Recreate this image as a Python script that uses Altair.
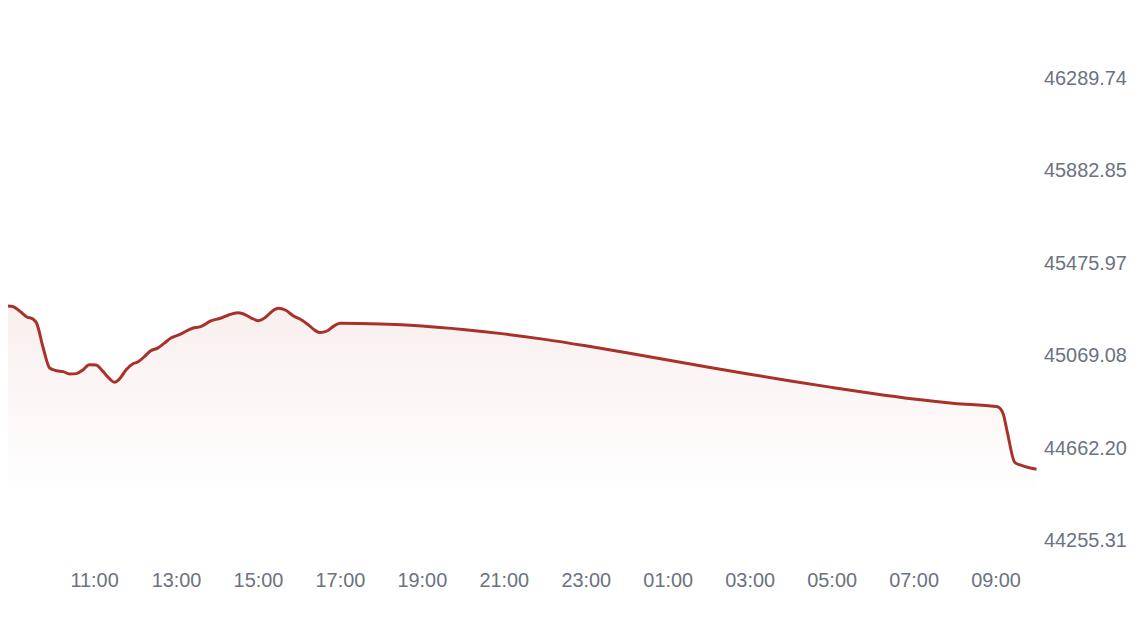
import altair as alt
import pandas as pd

times = [
    "2024-03-04T08:54", "2024-03-04T09:02", "2024-03-04T09:12", "2024-03-04T09:21",
    "2024-03-04T09:31", "2024-03-04T09:36", "2024-03-04T09:45", "2024-03-04T09:55",
    "2024-03-04T10:05", "2024-03-04T10:15", "2024-03-04T10:24", "2024-03-04T10:34",
    "2024-03-04T10:44", "2024-03-04T10:53", "2024-03-04T11:03", "2024-03-04T11:13",
    "2024-03-04T11:23", "2024-03-04T11:30", "2024-03-04T11:37", "2024-03-04T11:47",
    "2024-03-04T11:57", "2024-03-04T12:04", "2024-03-04T12:14", "2024-03-04T12:23",
    "2024-03-04T12:33", "2024-03-04T12:43", "2024-03-04T12:52", "2024-03-04T13:05",
    "2024-03-04T13:24", "2024-03-04T13:36", "2024-03-04T13:51", "2024-03-04T14:05",
    "2024-03-04T14:17", "2024-03-04T14:30", "2024-03-04T14:39", "2024-03-04T14:51",
    "2024-03-04T15:01", "2024-03-04T15:11", "2024-03-04T15:20", "2024-03-04T15:30",
    "2024-03-04T15:40", "2024-03-04T15:52", "2024-03-04T16:04", "2024-03-04T16:14",
    "2024-03-04T16:24", "2024-03-04T16:31", "2024-03-04T16:41", "2024-03-04T16:50",
    "2024-03-04T17:00", "2024-03-04T18:00", "2024-03-04T19:00", "2024-03-04T20:00",
    "2024-03-04T21:00", "2024-03-04T22:00", "2024-03-04T23:00", "2024-03-05T00:00",
    "2024-03-05T01:00", "2024-03-05T02:00", "2024-03-05T03:00", "2024-03-05T04:00",
    "2024-03-05T05:00", "2024-03-05T06:00", "2024-03-05T07:00", "2024-03-05T08:00",
    "2024-03-05T09:00", "2024-03-05T09:03", "2024-03-05T09:11", "2024-03-05T09:17",
    "2024-03-05T09:28", "2024-03-05T09:37", "2024-03-05T10:00",
]

prices = [
    45287.8, 45284.7, 45262.9, 45241.0,
    45229.6, 45212.1, 45109.7, 45015.3,
    45003.4, 44999.1, 44989.0, 44990.5,
    45007.8, 45029.7, 45028.0, 45000.4,
    44967.1, 44952.2, 44966.0, 45007.8,
    45034.1, 45041.5, 45066.0, 45090.9,
    45102.7, 45124.6, 45145.6, 45162.2,
    45190.2, 45197.2, 45222.2, 45234.0,
    45248.4, 45258.5, 45252.8, 45234.0,
    45223.5, 45238.4, 45262.9, 45277.7,
    45270.3, 45244.1, 45226.6, 45204.7,
    45179.7, 45171.0, 45178.0, 45197.2,
    45212.1, 45209.1, 45200.3, 45185.0,
    45165.3, 45141.2, 45112.8, 45082.2,
    45050.2, 45018.7, 44988.1, 44958.4,
    44929.9, 44902.8, 44878.7, 44859.1,
    44845.9, 44844.6, 44815.3, 44736.6,
    44600.9, 44587.8, 44570.3,
]

y_ticks = [44255.31, 44662.20, 45069.08, 45475.97, 45882.85, 46289.74]
y_domain = [44176.6, 46591.6]
x_tick_hours = [(4, 11), (4, 13), (4, 15), (4, 17), (4, 19), (4, 21), (4, 23),
                (5, 1), (5, 3), (5, 5), (5, 7), (5, 9)]

df = pd.DataFrame({"time": times, "price": prices})

line_color = "#a8322a"
label_color = "#6b7280"

x_enc = alt.X(
    "time:T",
    scale=alt.Scale(nice=False),
    axis=alt.Axis(
        values=[alt.DateTime(year=2024, month=3, date=d, hours=h, minutes=0) for d, h in x_tick_hours],
        format="%H:%M",
        title=None,
        labelPadding=12,
    ),
)
y_enc = alt.Y(
    "price:Q",
    scale=alt.Scale(domain=y_domain, zero=False, nice=False),
    axis=alt.Axis(
        orient="right",
        values=y_ticks,
        format=".2f",
        title=None,
        labelPadding=7,
    ),
)

area = alt.Chart(df).mark_area(
    interpolate="monotone",
    color=alt.Gradient(
        gradient="linear",
        x1=0, y1=0, x2=0, y2=1,
        stops=[
            alt.GradientStop(color="rgba(168,50,42,0.08)", offset=0),
            alt.GradientStop(color="rgba(168,50,42,0.0)", offset=0.75),
        ],
    ),
).encode(x=x_enc, y=y_enc, y2=alt.datum(y_domain[0]))

line = alt.Chart(df).mark_line(
    interpolate="monotone",
    color=line_color,
    strokeWidth=3,
).encode(x=x_enc, y=y_enc)

chart = (
    alt.layer(area, line)
    .properties(
        width=1034,
        height=552,
        padding={"left": 0, "top": 0, "right": 96, "bottom": 50},
        autosize=alt.AutoSizeParams(type="none"),
    )
    .configure_view(stroke=None)
    .configure_axis(
        grid=False,
        domain=False,
        ticks=False,
        labelFont="Liberation Sans",
        labelFontSize=20,
        labelColor=label_color,
    )
)

chart.save("out.html", embed_options={"renderer": "svg", "actions": False})
